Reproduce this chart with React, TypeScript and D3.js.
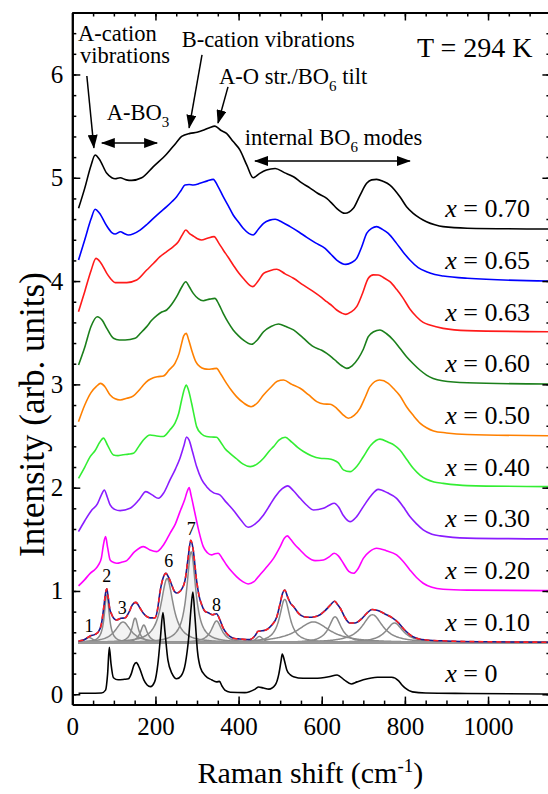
import React, { useEffect, useRef } from 'react';
import * as d3 from 'd3';

type Pt = [number, number];

// compositions, stacking offsets (arb. units)
const compositions = ['0', '0.10', '0.20', '0.30', '0.40', '0.50', '0.60', '0.63', '0.65', '0.70'];
const offsets = [0, 0.5, 1.0, 1.5, 2.0, 2.5, 3.0, 3.5, 4.0, 4.5];
const colors = ['#000000', '#1a1a8c', '#ff00ff', '#8a1cff', '#33ee33', '#ff8000', '#1b7f1b', '#ff1a1a', '#0000ff', '#000000'];

// spectra: [Raman shift (cm-1), normalised intensity]
const specX000: Pt[] = [[15,0.01],[40,0.01],[70,0.012],[80,0.04],[85,0.2],[89,0.455],[93,0.3],[99,0.16],[110,0.14],[125,0.145],[135,0.15],[142,0.2],[148,0.28],[154,0.306],[162,0.25],[172,0.14],[180,0.09],[188,0.074],[198,0.12],[206,0.3],[212,0.55],[218,0.79],[223,0.6],[230,0.33],[240,0.2],[251,0.15],[262,0.18],[272,0.3],[280,0.55],[286,0.85],[290,0.99],[295,0.75],[301,0.42],[308,0.26],[320,0.18],[335,0.14],[347,0.12],[354,0.125],[360,0.08],[367,0.04],[380,0.02],[415,0.016],[440,0.05],[448,0.07],[460,0.06],[473,0.05],[488,0.09],[497,0.2],[502,0.32],[505,0.39],[510,0.33],[516,0.235],[524,0.19],[532,0.17],[555,0.155],[583,0.155],[617,0.17],[637,0.187],[654,0.14],[671,0.1],[685,0.12],[700,0.14],[734,0.165],[768,0.165],[785,0.13],[793,0.09],[801,0.06],[818,0.023],[850,0.012],[950,0.008],[1145,0.003]];
const specX010: Pt[] = [[15,0.016],[30,0.03],[43,0.065],[55,0.08],[62,0.1],[70,0.18],[76,0.35],[80,0.48],[83,0.52],[86,0.45],[90,0.33],[95,0.27],[101,0.23],[107,0.22],[117,0.235],[127,0.24],[137,0.3],[145,0.37],[153,0.39],[162,0.34],[171,0.285],[180,0.25],[187,0.24],[199,0.24],[205,0.32],[211,0.49],[218,0.62],[225,0.67],[232,0.63],[239,0.56],[245,0.5],[251,0.48],[260,0.5],[271,0.6],[278,0.8],[285,0.99],[290,0.92],[299,0.6],[305,0.45],[311,0.37],[320,0.3],[327,0.29],[337,0.27],[347,0.28],[355,0.22],[363,0.14],[371,0.09],[379,0.06],[390,0.04],[403,0.035],[427,0.03],[440,0.07],[447,0.11],[457,0.115],[467,0.125],[480,0.17],[492,0.25],[500,0.38],[506,0.48],[511,0.51],[518,0.44],[525,0.38],[532,0.35],[545,0.28],[557,0.25],[570,0.245],[583,0.25],[596,0.27],[608,0.31],[620,0.36],[631,0.4],[638,0.37],[645,0.33],[655,0.25],[667,0.19],[680,0.19],[697,0.235],[710,0.29],[721,0.32],[735,0.31],[751,0.28],[770,0.24],[785,0.19],[800,0.12],[818,0.06],[835,0.035],[852,0.026],[900,0.016],[1000,0.008],[1145,0.004]];
const specX020: Pt[] = [[15,0.049],[30,0.11],[43,0.171],[55,0.21],[63,0.252],[70,0.32],[75,0.45],[80,0.526],[85,0.42],[91,0.3],[100,0.275],[107,0.268],[120,0.28],[131,0.294],[150,0.38],[171,0.429],[187,0.397],[203,0.381],[220,0.45],[235,0.558],[248,0.65],[259,0.768],[270,0.88],[277,0.97],[281,1.0],[286,0.92],[295,0.752],[305,0.57],[315,0.429],[325,0.37],[335,0.349],[343,0.36],[351,0.365],[360,0.32],[371,0.252],[383,0.19],[395,0.139],[410,0.09],[423,0.068],[437,0.09],[451,0.155],[465,0.22],[484,0.316],[500,0.43],[510,0.51],[517,0.533],[525,0.5],[535,0.45],[548,0.397],[565,0.33],[584,0.294],[604,0.3],[618,0.33],[630,0.365],[640,0.34],[652,0.268],[665,0.19],[676,0.171],[688,0.22],[700,0.316],[715,0.38],[732,0.413],[755,0.39],[780,0.349],[795,0.29],[812,0.204],[828,0.13],[844,0.075],[865,0.035],[892,0.016],[950,0.008],[1145,0.003]];
const specX030: Pt[] = [[15,0.075],[30,0.18],[47,0.284],[60,0.34],[70,0.43],[77,0.478],[84,0.41],[91,0.333],[102,0.29],[115,0.278],[139,0.3],[160,0.38],[177,0.462],[192,0.43],[207,0.397],[220,0.45],[235,0.575],[248,0.68],[259,0.785],[268,0.9],[275,0.99],[281,0.96],[289,0.85],[299,0.704],[311,0.58],[323,0.51],[340,0.45],[355,0.43],[370,0.36],[387,0.284],[405,0.19],[423,0.117],[440,0.15],[460,0.236],[475,0.33],[488,0.413],[505,0.49],[518,0.517],[532,0.47],[548,0.397],[564,0.33],[580,0.284],[604,0.3],[618,0.33],[630,0.349],[641,0.31],[652,0.23],[668,0.171],[684,0.22],[700,0.317],[718,0.42],[736,0.484],[758,0.45],[780,0.397],[797,0.31],[812,0.22],[828,0.15],[844,0.091],[865,0.05],[885,0.033],[950,0.012],[1145,0.004]];
const specX040: Pt[] = [[15,0.091],[30,0.2],[43,0.3],[55,0.36],[66,0.44],[75,0.48],[85,0.41],[99,0.317],[110,0.31],[119,0.317],[135,0.325],[147,0.333],[160,0.4],[171,0.462],[187,0.51],[203,0.5],[219,0.495],[235,0.56],[247,0.624],[256,0.72],[263,0.849],[270,0.96],[274,0.994],[279,0.95],[287,0.817],[293,0.7],[299,0.591],[311,0.52],[323,0.495],[335,0.49],[347,0.488],[357,0.44],[367,0.38],[380,0.33],[395,0.28],[410,0.23],[428,0.204],[445,0.23],[460,0.285],[475,0.36],[484,0.397],[497,0.46],[512,0.488],[528,0.44],[542,0.39],[556,0.35],[575,0.31],[596,0.285],[615,0.28],[628,0.268],[640,0.24],[652,0.172],[668,0.155],[685,0.21],[700,0.3],[718,0.41],[740,0.47],[760,0.44],[775,0.41],[788,0.365],[805,0.27],[820,0.188],[837,0.12],[852,0.081],[870,0.055],[892,0.042],[950,0.02],[1145,0.01]];
const specX050: Pt[] = [[15,0.139],[30,0.3],[45,0.42],[58,0.48],[68,0.51],[78,0.48],[91,0.397],[103,0.36],[115,0.349],[131,0.365],[147,0.388],[160,0.44],[171,0.494],[183,0.54],[195,0.565],[207,0.575],[219,0.581],[233,0.64],[247,0.704],[257,0.8],[263,0.897],[268,0.97],[274,0.994],[280,0.93],[287,0.833],[297,0.72],[307,0.671],[318,0.65],[327,0.646],[337,0.65],[347,0.655],[357,0.6],[371,0.51],[383,0.44],[395,0.381],[412,0.32],[430,0.284],[445,0.32],[460,0.397],[477,0.47],[493,0.53],[508,0.542],[528,0.5],[548,0.462],[568,0.4],[588,0.333],[605,0.31],[620,0.307],[636,0.268],[650,0.21],[664,0.172],[678,0.2],[692,0.268],[705,0.38],[716,0.478],[739,0.542],[760,0.51],[772,0.462],[788,0.39],[804,0.284],[820,0.2],[837,0.123],[852,0.08],[869,0.049],[900,0.03],[950,0.015],[1145,0.003]];
const specX060: Pt[] = [[15,0.188],[30,0.36],[45,0.56],[60,0.655],[72,0.62],[83,0.542],[99,0.446],[113,0.43],[127,0.43],[151,0.446],[165,0.5],[179,0.559],[191,0.62],[203,0.665],[215,0.7],[227,0.72],[240,0.78],[251,0.849],[263,0.94],[273,0.994],[282,0.94],[291,0.881],[303,0.83],[315,0.81],[330,0.825],[343,0.833],[352,0.78],[363,0.688],[375,0.6],[387,0.527],[400,0.47],[411,0.43],[431,0.388],[445,0.43],[460,0.51],[478,0.56],[496,0.584],[514,0.56],[532,0.527],[555,0.45],[580,0.365],[600,0.33],[612,0.3],[625,0.26],[636,0.22],[648,0.18],[660,0.155],[673,0.18],[688,0.252],[700,0.34],[712,0.462],[725,0.51],[740,0.527],[756,0.49],[772,0.43],[788,0.35],[804,0.268],[820,0.2],[836,0.139],[852,0.09],[868,0.058],[890,0.035],[950,0.015],[1145,0.003]];
const specX063: Pt[] = [[15,0.204],[30,0.4],[45,0.6],[57,0.72],[68,0.68],[83,0.575],[95,0.51],[103,0.485],[117,0.485],[131,0.485],[155,0.51],[179,0.607],[195,0.67],[211,0.736],[227,0.785],[243,0.833],[255,0.88],[265,0.95],[273,0.994],[282,0.96],[291,0.936],[301,0.91],[311,0.898],[325,0.915],[341,0.93],[352,0.87],[363,0.801],[375,0.73],[387,0.656],[400,0.58],[411,0.527],[434,0.446],[447,0.5],[460,0.575],[475,0.6],[492,0.614],[512,0.57],[532,0.527],[556,0.46],[580,0.398],[600,0.34],[612,0.3],[625,0.26],[636,0.22],[648,0.19],[658,0.178],[670,0.2],[684,0.252],[698,0.38],[712,0.527],[724,0.56],[736,0.559],[750,0.53],[764,0.494],[780,0.42],[796,0.333],[812,0.23],[828,0.155],[844,0.1],[860,0.075],[892,0.042],[950,0.02],[1145,0.01]];
const specX065: Pt[] = [[15,0.204],[30,0.4],[45,0.6],[55,0.695],[65,0.66],[83,0.533],[95,0.47],[103,0.456],[116,0.478],[125,0.46],[135,0.446],[163,0.494],[180,0.55],[195,0.607],[211,0.665],[227,0.72],[240,0.77],[251,0.817],[262,0.88],[271,0.93],[281,0.935],[291,0.93],[307,0.946],[325,0.97],[339,0.985],[350,0.92],[363,0.817],[375,0.73],[387,0.64],[400,0.57],[411,0.511],[435,0.446],[447,0.5],[460,0.559],[475,0.59],[488,0.598],[505,0.57],[524,0.527],[545,0.475],[564,0.423],[585,0.37],[608,0.317],[622,0.26],[636,0.204],[658,0.162],[672,0.18],[684,0.22],[696,0.33],[708,0.462],[720,0.51],[732,0.527],[746,0.5],[760,0.462],[780,0.365],[796,0.28],[812,0.204],[832,0.13],[852,0.09],[872,0.063],[892,0.049],[950,0.027],[1145,0.0]];
const specX070: Pt[] = [[15,0.204],[30,0.4],[45,0.62],[55,0.72],[65,0.68],[83,0.543],[95,0.5],[103,0.49],[115,0.5],[130,0.48],[143,0.475],[167,0.5],[195,0.608],[227,0.73],[250,0.84],[263,0.9],[283,0.93],[300,0.94],[315,0.96],[330,0.985],[343,1.0],[357,0.96],[371,0.93],[387,0.85],[403,0.77],[420,0.62],[435,0.5],[450,0.54],[467,0.575],[488,0.59],[510,0.55],[532,0.51],[552,0.45],[572,0.4],[590,0.35],[612,0.3],[625,0.25],[636,0.204],[656,0.156],[676,0.204],[692,0.33],[708,0.446],[720,0.48],[732,0.485],[748,0.465],[764,0.43],[788,0.317],[804,0.22],[820,0.156],[836,0.11],[852,0.075],[872,0.045],[892,0.027],[950,0.012],[1145,0.004]];
const spectra = [specX000, specX010, specX020, specX030, specX040, specX050, specX060, specX063, specX065, specX070];

// Lorentzian fit of the x = 0.10 spectrum: centre, height, FWHM
const fitCenters = [40, 83, 122, 151, 172, 228, 286, 347, 450, 511, 580, 632, 722, 775];
const fitHeights = [0.05, 0.47, 0.2, 0.24, 0.17, 0.62, 0.88, 0.21, 0.06, 0.42, 0.2, 0.25, 0.27, 0.19];
const fitWidths = [25, 14, 45, 18, 20, 36, 26, 30, 20, 30, 95, 36, 60, 50];
const peakLabels = [{ n: '1', c: 40, h: 0.6 }, { n: '2', c: 83, h: 1.09 }, { n: '3', c: 120, h: 0.78 }, { n: '6', c: 232, h: 1.23 }, { n: '7', c: 286, h: 1.54 }, { n: '8', c: 347, h: 0.81 }];

const xMajor = [0, 200, 400, 600, 800, 1000];
const xMinor = d3.range(0, 1151, 50);
const yMajor = [0, 1, 2, 3, 4, 5, 6];
const yMinor = d3.range(0, 33).map(i => +(i * 0.2).toFixed(1));

const W = 548, H = 794;
const FONT = "'Liberation Serif', 'Times New Roman', serif";

export default function App() {
  const ref = useRef<SVGSVGElement>(null);

  useEffect(() => {
    const svg = d3.select(ref.current);
    svg.selectAll('*').remove();

    const x = d3.scaleLinear().domain([0, 1150]).range([72.3, 550.4]);
    const y = d3.scaleLinear().domain([-0.1, 6.6]).range([704.6, 12.5]);
    const [x0, x1] = x.range();
    const [y0, y1] = y.range();

    const defs = svg.append('defs');
    defs.append('marker').attr('id', 'ah').attr('viewBox', '0 0 14 10')
      .attr('markerUnits', 'userSpaceOnUse').attr('markerWidth', 14).attr('markerHeight', 10)
      .attr('refX', 13).attr('refY', 5).attr('orient', 'auto-start-reverse')
      .append('path').attr('d', 'M0,0 L14,5 L0,10 z').attr('fill', '#000');

    const line = d3.line<Pt>().x(d => x(d[0])).y(d => y(d[1])).curve(d3.curveMonotoneX);

    // fit components for x = 0.10
    const base = offsets[1];
    const grid = d3.range(14, 1147, 2);
    const comps = fitCenters.map((c, i) => grid.map(v => {
      const u = (v - c) / (fitWidths[i] / 2);
      return [v, fitHeights[i] / (1 + u * u)] as Pt;
    }));
    const area = d3.area<Pt>().x(d => x(d[0])).y0(y(base)).y1(d => y(base + d[1]));
    const fitG = svg.append('g');
    comps.forEach((pts, i) => {
      if (fitCenters[i] < 400) {
        fitG.append('path').attr('d', area(pts)).attr('fill', '#dcdcdc').attr('fill-opacity', 0.35);
      }
    });
    comps.forEach(pts => {
      fitG.append('path').attr('d', line(pts.map(d => [d[0], base + d[1]] as Pt)))
        .attr('fill', 'none').attr('stroke', '#8a8a8a').attr('stroke-width', 1.5);
    });
    fitG.append('line').attr('x1', x(14)).attr('x2', x1).attr('y1', y(base)).attr('y2', y(base))
      .attr('stroke', '#999').attr('stroke-width', 2.5);

    // spectra
    spectra.forEach((s, i) => {
      const pts = s.map(d => [d[0], d[1] + offsets[i]] as Pt);
      svg.append('path').attr('d', line(pts)).attr('fill', 'none')
        .attr('stroke', colors[i]).attr('stroke-width', 1.6);
      if (i === 1) {
        svg.append('path').attr('d', line(pts)).attr('fill', 'none')
          .attr('stroke', '#ff2020').attr('stroke-width', 1.6).attr('stroke-dasharray', '5,4');
      }
    });

    // peak numbers
    svg.append('g').selectAll('text').data(peakLabels).enter().append('text')
      .attr('x', d => x(d.c)).attr('y', d => y(d.h)).attr('text-anchor', 'middle')
      .attr('font-family', FONT).attr('font-size', 18).text(d => d.n);

    // composition labels
    const lab = svg.append('g').selectAll('text').data(compositions).enter().append('text')
      .attr('x', x(897)).attr('y', (d, i) => y(offsets[i]) - 12)
      .attr('font-family', FONT).attr('font-size', 26);
    lab.append('tspan').attr('font-style', 'italic').text('x');
    lab.append('tspan').text(d => ' = ' + d);

    // axes
    const styleAxis = (g: any, labels: boolean) => {
      g.attr('font-family', FONT).attr('font-size', 25);
      g.selectAll('.domain').attr('stroke-width', 2).attr('stroke', '#000');
      g.selectAll('.tick line').attr('stroke-width', 1.5).attr('stroke', '#000');
      g.selectAll('.tick text').attr('fill', '#000');
      if (!labels) g.selectAll('.tick text').remove();
    };
    const noLab = () => '';
    svg.append('g').attr('transform', `translate(0,${y0})`)
      .call(d3.axisBottom(x).tickValues(xMinor).tickSize(-4).tickSizeOuter(0).tickFormat(noLab))
      .call((g: any) => styleAxis(g, false));
    svg.append('g').attr('transform', `translate(0,${y0})`)
      .call(d3.axisBottom(x).tickValues(xMajor).tickSize(-8).tickSizeOuter(0).tickPadding(13).tickFormat(d3.format('d')))
      .call((g: any) => styleAxis(g, true));
    svg.append('g').attr('transform', `translate(0,${y1})`)
      .call(d3.axisTop(x).tickValues(xMinor).tickSize(-4).tickSizeOuter(0).tickFormat(noLab))
      .call((g: any) => styleAxis(g, false));
    svg.append('g').attr('transform', `translate(0,${y1})`)
      .call(d3.axisTop(x).tickValues(xMajor).tickSize(-8).tickSizeOuter(0).tickFormat(noLab))
      .call((g: any) => styleAxis(g, false));
    svg.append('g').attr('transform', `translate(${x0},0)`)
      .call(d3.axisLeft(y).tickValues(yMinor).tickSize(-4).tickSizeOuter(0).tickFormat(noLab))
      .call((g: any) => styleAxis(g, false));
    svg.append('g').attr('transform', `translate(${x0},0)`)
      .call(d3.axisLeft(y).tickValues(yMajor).tickSize(-8).tickSizeOuter(0).tickPadding(9).tickFormat(d3.format('d')))
      .call((g: any) => styleAxis(g, true));
    svg.append('g').attr('transform', `translate(${x1},0)`)
      .call(d3.axisRight(y).tickValues(yMinor).tickSize(-4).tickSizeOuter(0).tickFormat(noLab))
      .call((g: any) => styleAxis(g, false));
    svg.append('g').attr('transform', `translate(${x1},0)`)
      .call(d3.axisRight(y).tickValues(yMajor).tickSize(-8).tickSizeOuter(0).tickFormat(noLab))
      .call((g: any) => styleAxis(g, false));

    // axis titles
    const xt = svg.append('text').attr('x', (x0 + x1) / 2 - 1).attr('y', 783)
      .attr('text-anchor', 'middle').attr('font-family', FONT).attr('font-size', 30);
    xt.append('tspan').text('Raman shift (cm');
    xt.append('tspan').attr('font-size', 19).attr('dy', -11).text('-1');
    xt.append('tspan').attr('dy', 11).text(')');
    svg.append('text').attr('transform', `translate(44,${(y0 + y1) / 2 + 56}) rotate(-90)`)
      .attr('text-anchor', 'middle').attr('font-family', FONT).attr('font-size', 35)
      .text('Intensity (arb. units)');

    // annotations
    const ann = svg.append('g').attr('font-family', FONT).attr('font-size', 22.5);
    const addText = (v: number, iy: number, parts: [string, boolean][]) => {
      const t = ann.append('text').attr('x', x(v)).attr('y', y(iy));
      parts.forEach(([s, sub], k) => {
        const sp = t.append('tspan').text(s);
        if (sub) sp.attr('font-size', 15).attr('dy', 7);
        else if (k > 0 && parts[k - 1][1]) sp.attr('dy', -7);
      });
    };
    addText(14, 6.324, [['A-cation', false]]);
    addText(18.5, 6.111, [['vibrations', false]]);
    addText(82.8, 5.56, [['A-BO', false], ['3', true]]);
    addText(263, 6.266, [['B-cation vibrations', false]]);
    addText(353, 5.908, [['A-O str./BO', false], ['6', true], [' tilt', false]]);
    addText(415, 5.318, [['internal BO', false], ['6', true], [' modes', false]]);
    ann.append('text').attr('x', x(829)).attr('y', y(6.17)).attr('font-size', 28).text('T = 294 K');

    const arrows = [
      { a: [35, 5.985], b: [52, 5.29], both: false },
      { a: [71, 5.337], b: [204, 5.337], both: true },
      { a: [312, 6.19], b: [281, 5.483], both: false },
      { a: [374.5, 5.88], b: [350.5, 5.53], both: false },
      { a: [439.5, 5.163], b: [812, 5.163], both: true },
    ];
    arrows.forEach(ar => {
      const l = svg.append('line').attr('x1', x(ar.a[0])).attr('y1', y(ar.a[1]))
        .attr('x2', x(ar.b[0])).attr('y2', y(ar.b[1]))
        .attr('stroke', '#000').attr('stroke-width', 1.5).attr('marker-end', 'url(#ah)');
      if (ar.both) l.attr('marker-start', 'url(#ah)');
    });
  }, []);

  return (
    <svg ref={ref} width={W} height={H}
      style={{ position: 'absolute', left: 0, top: 0, background: '#fff' }} />
  );
}
